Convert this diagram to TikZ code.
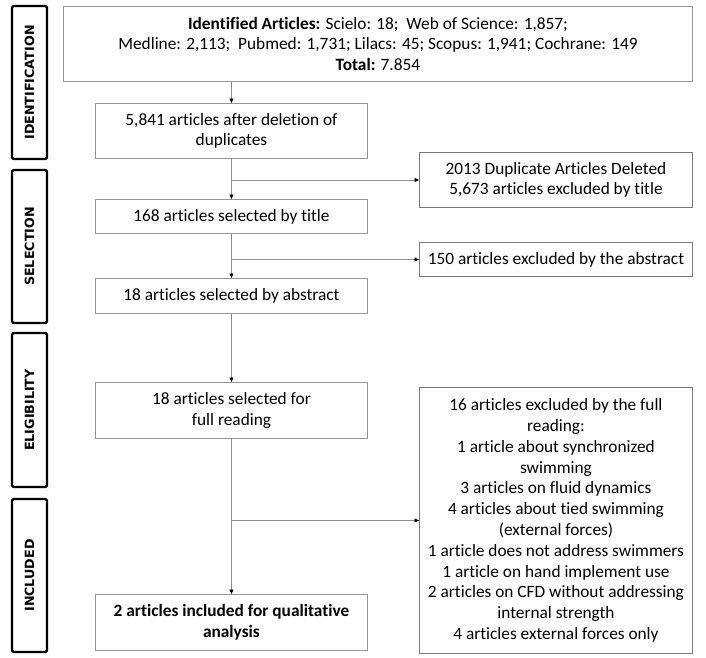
\documentclass[tikz,border=0pt]{standalone}
\usepackage{fontspec}
\setmainfont{Carlito}[RawFeature=-liga, RawFeature=-clig, RawFeature=-calt, RawFeature=-dlig]
\newfontfamily\sidefont{DejaVu Sans}
\usetikzlibrary{arrows.meta}
\definecolor{boxgray}{RGB}{150,150,150}
\definecolor{exgray}{RGB}{120,120,120}
\definecolor{linegray}{RGB}{140,140,140}
\tikzset{
  box/.style={draw=boxgray, line width=0.9pt, anchor=north west, align=center, inner sep=2pt,
    font=\fontsize{17.3}{20.8}\selectfont},
  exbox/.style={box, draw=exgray},
  side/.style={draw=black, line width=2.4pt, rounded corners=1.5pt, rotate=90,
    minimum height=35pt, inner sep=0pt, font=\sidefont\bfseries\fontsize{12.7}{14}\selectfont},
  conn/.style={draw=linegray, line width=0.8pt},
  arr/.style={conn, -{Triangle[length=4.5pt,width=4pt,color=black]}}
}
\begin{document}
\begin{tikzpicture}[x=1pt,y=-1pt]
\useasboundingbox (0,0) rectangle (706,657);
% side labels
\node[side, minimum width=153pt] (sid) at (29.5,82.5) {IDENTIFICATION};
\node[side, minimum width=153pt] (ssel) at (29.5,246.5) {SELECTION};
\node[side, minimum width=154pt] (selig) at (29.5,410) {ELIGIBILITY};
\node[side, minimum width=153pt] (sincl) at (29.5,575.5) {INCLUDED};
% main boxes
\node[box, minimum width=629pt, minimum height=75pt] (top) at (63,6)
  {\textbf{Identified Articles:} Scielo: 18;\ \ Web of Science: 1,857;\\
   Medline: 2,113;\ \ Pubmed: 1,731; Lilacs: 45; Scopus: 1,941; Cochrane: 149\\
   \textbf{Total:} 7.854};
\node[box, minimum width=272pt, minimum height=55pt] (b2) at (95,103)
  {5,841 articles after deletion of\\duplicates};
\node[box, minimum width=272pt, minimum height=34pt] (b3) at (95,199)
  {168 articles selected by title};
\node[box, minimum width=272pt, minimum height=35pt] (b4) at (95,278)
  {18 articles selected by abstract};
\node[box, minimum width=272pt, minimum height=56pt] (b5) at (95,382)
  {18 articles selected for\\full reading};
\node[box, minimum width=272pt, minimum height=56pt] (b6) at (95,594)
  {\textbf{2 articles included for qualitative}\\\textbf{analysis}};
% exclusion boxes
\node[exbox, minimum width=273pt, minimum height=55pt] (e1) at (419,152)
  {2013 Duplicate Articles Deleted\\5,673 articles excluded by title};
\node[exbox, minimum width=273pt, minimum height=34pt] (e2) at (419,242)
  {150 articles excluded by the abstract};
\node[exbox, minimum width=273pt, minimum height=266pt] (e3) at (419,387)
  {16 articles excluded by the full\\reading:\\1 article about synchronized\\swimming\\
   3 articles on fluid dynamics\\4 articles about tied swimming\\(external forces)\\
   1 article does not address swimmers\\1 article on hand implement use\\
   2 articles on CFD without addressing\\internal strength\\4 articles external forces only};
% connectors
\coordinate (tb) at (b2.north |- top.south);
\draw[arr] (tb) -- (b2.north);
\draw[arr] (b2.south) -- (b3.north);
\draw[arr] (b2.south |- e1.west) -- (e1.west);
\draw[arr] (b3.south) -- (b4.north);
\draw[arr] (b3.south |- e2.west) -- (e2.west);
\draw[arr] (b4.south) -- (b5.north);
\draw[arr] (b5.south) -- (b6.north);
\draw[arr] (b5.south |- e3.west) -- (e3.west);
\end{tikzpicture}
\end{document}
